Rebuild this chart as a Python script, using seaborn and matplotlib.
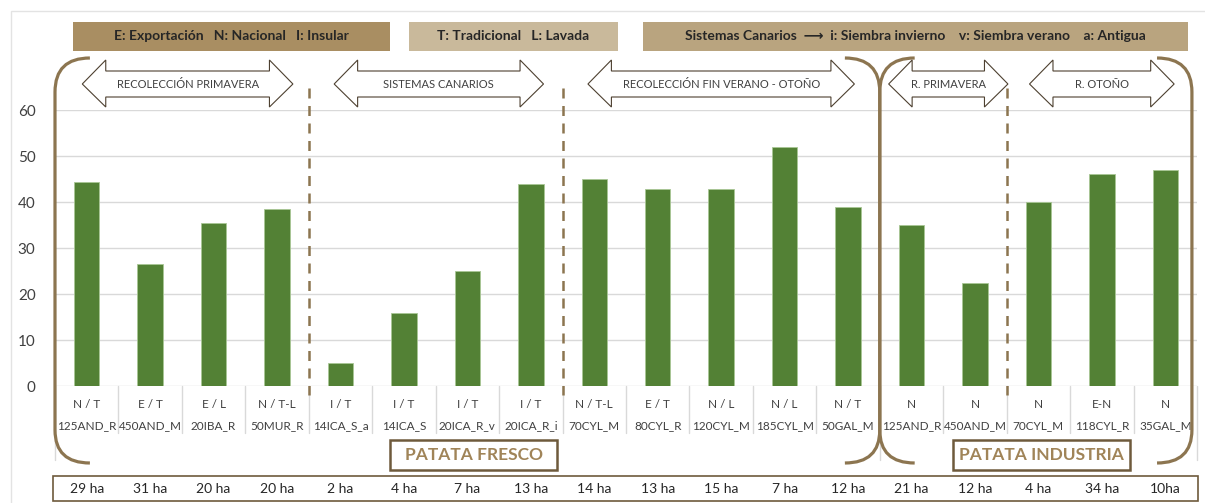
import matplotlib
matplotlib.use("Agg")
import matplotlib.pyplot as plt
from matplotlib.patches import Polygon, Rectangle, PathPatch
from matplotlib.path import Path
import pandas as pd
import seaborn as sns

# ---- data ----
codes = ["125AND_R", "450AND_M", "20IBA_R", "50MUR_R", "14ICA_S_a", "14ICA_S",
         "20ICA_R_v", "20ICA_R_i", "70CYL_M", "80CYL_R", "120CYL_M", "185CYL_M",
         "50GAL_M", "125AND_R", "450AND_M", "70CYL_M", "118CYL_R", "35GAL_M"]
types = ["N / T", "E / T", "E / L", "N / T-L", "I / T", "I / T", "I / T", "I / T",
         "N / T-L", "E / T", "N / L", "N / L", "N / T", "N", "N", "N", "E-N", "N"]
values = [44.3, 26.6, 35.4, 38.5, 5.0, 15.9, 24.9, 44.0, 45.0, 42.9, 42.9, 51.9,
          39.0, 35.0, 22.3, 40.0, 46.1, 47.0]
areas = ["29 ha", "31 ha", "20 ha", "20 ha", "2 ha", "4 ha", "7 ha", "13 ha",
         "14 ha", "13 ha", "15 ha", "7 ha", "12 ha", "21 ha", "12 ha", "4 ha",
         "34 ha", "10ha"]
period_labels = ["RECOLECCIÓN PRIMAVERA", "SISTEMAS CANARIOS",
                 "RECOLECCIÓN FIN VERANO - OTOÑO", "R. PRIMAVERA", "R. OTOÑO"]
group_labels = ["PATATA FRESCO", "PATATA INDUSTRIA"]
legend_texts = ["E: Exportación   N: Nacional   I: Insular",
                "T: Tradicional   L: Lavada",
                "Sistemas Canarios  \u27f6  i: Siembra invierno    v: Siembra verano    a: Antigua"]

df = pd.DataFrame({"pos": range(len(values)), "value": values})

# ---- layout / style ----
W, H = 1205, 503
BROWN = "#8c7550"
GRID = "#d9d9d9"
TXT = "#404040"

sns.set_style("white")
plt.rcParams["font.family"] = ["Lato", "DejaVu Sans"]

fig = plt.figure(figsize=(W / 100, H / 100), dpi=100)
ax = fig.add_axes([55 / W, (H - 386) / H, 1142 / W, 276 / H])

sns.barplot(data=df, x="pos", y="value", color="#538135", width=0.4,
            saturation=1, edgecolor="#a9c795", linewidth=0.6, ax=ax, zorder=3)

ax.set_xlim(-0.5, 17.5)
ax.set_ylim(0, 60)
ax.set_yticks(range(0, 61, 10))
ax.tick_params(axis="y", length=0, pad=14, labelsize=11, labelcolor=TXT)
ax.set_xticks([])
ax.set_xlabel("")
ax.set_ylabel("")
for s in ax.spines.values():
    s.set_visible(False)
ax.yaxis.grid(True, color=GRID, lw=1, zorder=0)
ax.set_axisbelow(True)

T = ax.get_xaxis_transform()


def ay(py):
    # pixel row (from the top of the image) -> axes fraction
    return (386 - py) / 276


# category label rows and cell separators
for i in range(len(codes)):
    ax.text(i, ay(404), types[i], transform=T, ha="center", va="center",
            fontsize=8.5, color=TXT, clip_on=False)
    ax.text(i, ay(426), codes[i], transform=T, ha="center", va="center",
            fontsize=8.5, color=TXT, clip_on=False)
for b in [x + 0.5 for x in range(17)]:
    ax.plot([b, b], [ay(386), ay(433)], transform=T, color=GRID, lw=1, clip_on=False)
for b in [-0.5, 12.5, 17.5]:
    ax.plot([b, b], [ay(386), ay(460)], transform=T, color=GRID, lw=1, clip_on=False)

# dashed separators between harvest periods
for b in [3.5, 7.5, 14.5]:
    ax.plot([b, b], [ay(88), ay(395)], transform=T, color=BROWN, lw=1.8,
            ls=(0, (4, 3)), clip_on=False, zorder=4)

# big brackets
M, L3, C3 = Path.MOVETO, Path.LINETO, Path.CURVE3
r = 0.55
top, topc, bot, botc = 58, 92, 463, 430


def bracket(xv, side):
    verts = [(xv + side * r, ay(top)), (xv, ay(top)), (xv, ay(topc)),
             (xv, ay(botc)), (xv, ay(bot)), (xv + side * r, ay(bot))]
    return Path(verts, [M, C3, C3, L3, C3, C3])


for xv, side in [(-0.5, 1), (12.5, -1), (12.5, 1), (17.42, -1)]:
    ax.add_patch(PathPatch(bracket(xv, side), transform=T, fc="none", ec=BROWN,
                           lw=2.3, clip_on=False, zorder=5))

# double arrows with period names
arrow_geom = [(1.59, 1.66), (5.55, 1.65), (10.0, 2.1), (13.58, 0.94), (16.0, 1.14)]
head = 0.37
for (cx, hw), lab in zip(arrow_geom, period_labels):
    x0, x1 = cx - hw, cx + hw
    pts = [(x0, ay(84)), (x0 + head, ay(60)), (x0 + head, ay(71)),
           (x1 - head, ay(71)), (x1 - head, ay(60)), (x1, ay(84)),
           (x1 - head, ay(107)), (x1 - head, ay(97)), (x0 + head, ay(97)),
           (x0 + head, ay(107))]
    ax.add_patch(Polygon(pts, closed=True, transform=T, fc="white", ec="#4d4030",
                         lw=0.8, clip_on=False, zorder=6))
    ax.text(cx, ay(84), lab, transform=T, ha="center", va="center",
            fontsize=8, color=TXT, clip_on=False, zorder=7)

# group boxes
for (cx, hw), lab in zip([(6.1, 1.32), (15.05, 1.39)], group_labels):
    ax.add_patch(Rectangle((cx - hw, ay(470)), 2 * hw, ay(440) - ay(470),
                           transform=T, fc="white", ec="#6e5a3c", lw=1.8,
                           clip_on=False, zorder=6))
    ax.text(cx, ay(455), lab, transform=T, ha="center", va="center",
            fontsize=12.5, fontweight="bold", color="#a08458", clip_on=False, zorder=7)

# area row
ax.add_patch(Rectangle((-0.53, ay(501)), 18.05, ay(476) - ay(501), transform=T,
                       fc="none", ec="#6e5a3c", lw=1.2, clip_on=False))
for i, a in enumerate(areas):
    ax.text(i, ay(489), a, transform=T, ha="center", va="center",
            fontsize=10, color="#262626", clip_on=False)

# legend boxes on top (figure pixels)
boxes = [(73, 390, "#a98e62"), (409, 618, "#c9b99b"), (643, 1188, "#b9a47f")]
for (x0, x1, col), txt in zip(boxes, legend_texts):
    fig.patches.append(Rectangle((x0 / W, 1 - 51 / H), (x1 - x0) / W, 29 / H,
                                 transform=fig.transFigure, fc=col, ec="none"))
    fig.text((x0 + x1) / 2 / W, 1 - 36 / H, txt, ha="center", va="center",
             fontsize=10, fontweight="bold", color="#262626")

# faint chart border
fig.patches.append(Rectangle((11 / W, -0.1), 1.2, 1 - 11 / H + 0.1,
                             transform=fig.transFigure, fc="none", ec="#e3e3e3", lw=1))

fig.savefig("out.png", dpi=100)
